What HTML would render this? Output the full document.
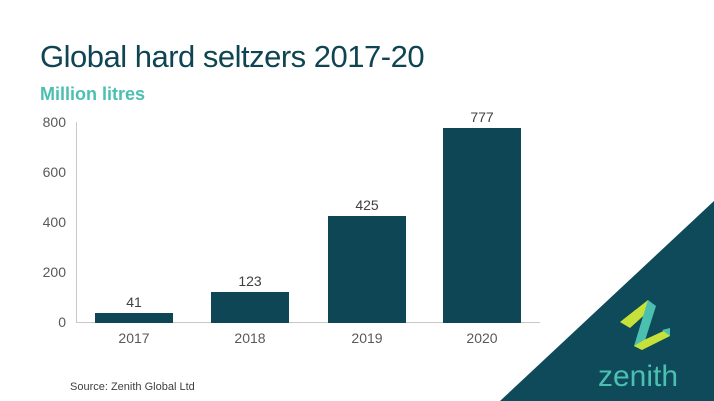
<!DOCTYPE html>
<html><head><style>
body{margin:0;width:714px;height:401px;overflow:hidden;background:#fff;position:relative;font-family:"Liberation Sans",sans-serif}
.t{position:absolute;left:40px;top:39px;font-size:31px;color:#0f4452;letter-spacing:-0.5px}
.s{position:absolute;left:40px;top:84px;font-size:18px;color:#4bbfb0;font-weight:bold}
.y{position:absolute;left:30px;width:36px;text-align:right;font-size:14px;color:#595959}
.x{position:absolute;top:330px;width:78px;text-align:center;font-size:14px;color:#595959}
.b{position:absolute;background:#0e4655;width:78px}
.v{position:absolute;width:78px;text-align:center;font-size:14px;color:#404040}
</style></head><body>
<div class="t">Global hard seltzers 2017-20</div>
<div class="s">Million litres</div>
<div class="y" style="top:114px">800</div>
<div class="y" style="top:164px">600</div>
<div class="y" style="top:214px">400</div>
<div class="y" style="top:264px">200</div>
<div class="y" style="top:314px">0</div>
<div style="position:absolute;left:76px;top:122px;width:1px;height:201px;background:#c8c8c8"></div>
<div style="position:absolute;left:76px;top:322px;width:464px;height:1px;background:#c8c8c8"></div>
<div class="b" style="left:95px;top:313px;height:10px"></div>
<div class="b" style="left:211px;top:292px;height:31px"></div>
<div class="b" style="left:328px;top:216px;height:107px"></div>
<div class="b" style="left:443px;top:128px;height:195px"></div>
<div class="v" style="left:95px;top:294px">41</div>
<div class="v" style="left:211px;top:273px">123</div>
<div class="v" style="left:328px;top:197px">425</div>
<div class="v" style="left:443px;top:109px">777</div>
<div class="x" style="left:95px">2017</div>
<div class="x" style="left:211px">2018</div>
<div class="x" style="left:328px">2019</div>
<div class="x" style="left:443px">2020</div>
<div style="position:absolute;left:70px;top:381px;font-size:11px;color:#404040">Source: Zenith Global Ltd</div>
<svg style="position:absolute;left:0;top:0" width="714" height="401">
<polygon points="714,201 714,401 500,401" fill="#0e4a5a"/>
<polygon points="620,322 648,300 652,308 630,328" fill="#c6e23a"/>
<polygon points="648,300 656,306 642,350 634,346" fill="#4bbfb0"/>
<polygon points="634,346 642,350 670,336 670,328 644,340" fill="#c6e23a"/>
<polygon points="662,330 670,328 670,336" fill="#4bbfb0"/>
<text x="598" y="386" font-family="Liberation Sans,sans-serif" font-size="30" fill="#4bbfb0">zenith</text>
</svg>
</body></html>
